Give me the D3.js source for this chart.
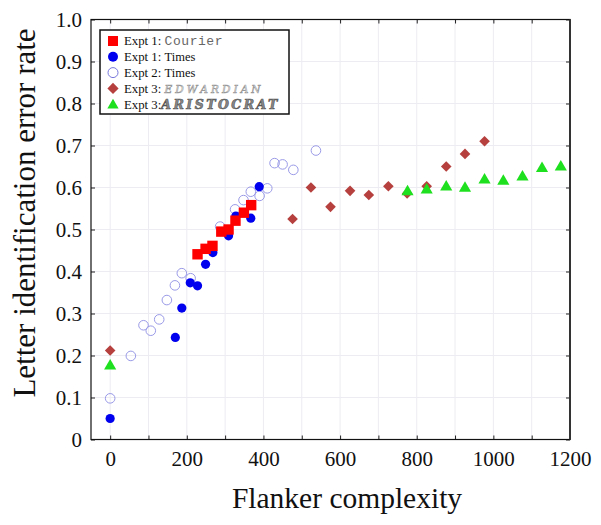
<!DOCTYPE html>
<html><head><meta charset="utf-8">
<script src="https://cdn.jsdelivr.net/npm/d3@7"></script>
<style>body{margin:0;background:#fff}</style>
</head><body><svg id="c" width="601" height="525"></svg>
<script>
const expt1Courier = [[228,0.441],[249,0.454],[267,0.461],[290,0.495],[309,0.500],[327,0.521],[349,0.540],[368,0.558]];
const expt1Times = [[0,0.050],[170,0.243],[187,0.313],[209,0.373],[228,0.366],[249,0.417],[268,0.445],[309,0.485],[328,0.532],[367,0.527],[389,0.602]];
const expt2Times = [[0,0.098],[54,0.199],[87,0.272],[106,0.259],[128,0.286],[148,0.332],[169,0.367],[187,0.396],[210,0.384],[287,0.507],[326,0.548],[348,0.570],[367,0.590],[390,0.580],[410,0.598],[429,0.658],[450,0.655],[478,0.642],[537,0.688]];
const expt3Edwardian = [[0,0.212],[476,0.525],[524,0.600],[575,0.554],[626,0.592],[675,0.582],[726,0.603],[775,0.586],[826,0.603],[877,0.650],[926,0.680],[977,0.710]];
const expt3Aristocrat = [[0,0.175],[776,0.590],[826,0.594],[877,0.601],[926,0.598],[977,0.618],[1026,0.615],[1076,0.625],[1127,0.645],[1176,0.649]];
const xTicks = [0,200,400,600,800,1000,1200];
const yTicks = [0,0.1,0.2,0.3,0.4,0.5,0.6,0.7,0.8,0.9,1.0];
const xLabel = "Flanker complexity";
const yLabel = "Letter identification error rate";

const svg = d3.select("#c");
const L=91, R=570, T=19.5, B=439.5;
const x = d3.scaleLinear().domain([-50,1200]).range([L,R]);
const y = d3.scaleLinear().domain([0,1]).range([B,T]);
const serif = "'Liberation Serif','Times New Roman',serif";

// grid
const g = svg.append("g");
g.selectAll(".vg").data(d3.range(0,1201,100)).join("line")
 .attr("x1",d=>x(d)).attr("x2",d=>x(d)).attr("y1",T).attr("y2",B)
 .attr("stroke","#ececf2").attr("stroke-width",1);
g.selectAll(".hg").data(yTicks).join("line")
 .attr("x1",L).attr("x2",R).attr("y1",d=>y(d)).attr("y2",d=>y(d))
 .attr("stroke","#ececf2").attr("stroke-width",1);

// axes
const ax = svg.append("g").attr("transform",`translate(0,${B})`)
 .call(d3.axisBottom(x).tickValues(d3.range(0,1201,100)).tickSizeInner(-4).tickSizeOuter(0).tickPadding(12)
   .tickFormat(d=>xTicks.includes(d)?d:""));
ax.select(".domain").remove();
ax.selectAll("text").attr("font-family",serif).attr("font-size",21).attr("fill","#111");
ax.selectAll("line").attr("stroke","#222");

const ay = svg.append("g").attr("transform",`translate(${L},0)`)
 .call(d3.axisLeft(y).tickValues(yTicks).tickSizeInner(-4).tickSizeOuter(0).tickPadding(9)
   .tickFormat(d=>d===0?"0":d3.format(".1f")(d)));
ay.select(".domain").remove();
ay.selectAll("text").attr("font-family",serif).attr("font-size",21).attr("fill","#111");
ay.selectAll("line").attr("stroke","#222");

const ar = svg.append("g").attr("transform",`translate(${R},0)`)
 .call(d3.axisRight(y).tickValues(yTicks).tickSizeInner(-4).tickSizeOuter(0).tickFormat(""));
ar.select(".domain").remove();
ar.selectAll("line").attr("stroke","#222");
const at = svg.append("g").attr("transform",`translate(0,${T})`)
 .call(d3.axisTop(x).tickValues(d3.range(0,1201,100)).tickSizeInner(-4).tickSizeOuter(0).tickFormat(""));
at.select(".domain").remove();
at.selectAll("line").attr("stroke","#222");

svg.append("rect").attr("x",L).attr("y",T).attr("width",R-L).attr("height",B-T)
 .attr("fill","none").attr("stroke","#111").attr("stroke-width",1.2);
svg.append("line").attr("x1",R).attr("x2",R).attr("y1",T).attr("y2",B).attr("stroke","#333").attr("stroke-width",2);

// labels
svg.append("text").attr("x",347).attr("y",508).attr("text-anchor","middle")
 .attr("font-family",serif).attr("font-size",29.5).attr("fill","#111").text(xLabel);
svg.append("text").attr("transform","translate(35,213) rotate(-90)").attr("text-anchor","middle")
 .attr("font-family",serif).attr("font-size",31).attr("fill","#111").text(yLabel);

// series
const sym = (type,size)=>d3.symbol().type(type).size(size)();
const pts = svg.append("g");
pts.selectAll(".e2").data(expt2Times).join("circle")
 .attr("cx",d=>x(d[0])).attr("cy",d=>y(d[1])).attr("r",4.8)
 .attr("fill","none").attr("stroke","#9a9ae8").attr("stroke-width",1);
pts.selectAll(".e3e").data(expt3Edwardian).join("path")
 .attr("transform",d=>`translate(${x(d[0])},${y(d[1])})`).attr("d",sym(d3.symbolDiamond2,72))
 .attr("fill","#b5403e");
pts.selectAll(".e3a").data(expt3Aristocrat).join("path")
 .attr("transform",d=>`translate(${x(d[0])},${y(d[1])})`).attr("d",sym(d3.symbolTriangle,64))
 .attr("fill","#1ee01e");
pts.selectAll(".e1t").data(expt1Times).join("circle")
 .attr("cx",d=>x(d[0])).attr("cy",d=>y(d[1])).attr("r",4.6).attr("fill","#0000ee");
pts.selectAll(".e1c").data(expt1Courier).join("rect")
 .attr("x",d=>x(d[0])-5.2).attr("y",d=>y(d[1])-5.2).attr("width",10.4).attr("height",10.4).attr("fill","#ff0000");

// legend
const lg = svg.append("g");
lg.append("rect").attr("x",100).attr("y",30).attr("width",189).attr("height",84)
 .attr("fill","#fff").attr("stroke","#111").attr("stroke-width",1.5);
const items = [
 {k:"sq", pre:"Expt 1: ", post:"Courier", style:{family:"'Liberation Mono',monospace", fill:"#666", size:13, len:58}},
 {k:"fc", pre:"Expt 1: ", post:"Times", style:{family:serif, fill:"#111", size:12.5}},
 {k:"oc", pre:"Expt 2: ", post:"Times", style:{family:serif, fill:"#111", size:12.5}},
 {k:"di", pre:"Expt 3: ", post:"EDWARDIAN", style:{family:"'DejaVu Serif',serif", fill:"#fff", stroke:"#999", size:10.5, italic:true, len:96}},
 {k:"tr", pre:"Expt 3:", post:"ARISTOCRAT", style:{family:"'DejaVu Serif',serif", fill:"#888", stroke:"#555", size:12.5, italic:true, bold:true, len:116}}
];
items.forEach((it,i)=>{
  const cy = 41 + i*15.8;
  const mx = 113;
  if(it.k==="sq") lg.append("rect").attr("x",mx-5).attr("y",cy-5).attr("width",10).attr("height",10).attr("fill","#ff0000");
  if(it.k==="fc") lg.append("circle").attr("cx",mx).attr("cy",cy).attr("r",5).attr("fill","#0000ee");
  if(it.k==="oc") lg.append("circle").attr("cx",mx).attr("cy",cy).attr("r",5).attr("fill","none").attr("stroke","#7777dd");
  if(it.k==="di") lg.append("path").attr("transform",`translate(${mx},${cy})`).attr("d",sym(d3.symbolDiamond2,80)).attr("fill","#b5403e");
  if(it.k==="tr") lg.append("path").attr("transform",`translate(${mx},${cy+1})`).attr("d",sym(d3.symbolTriangle,55)).attr("fill","#1ee01e");
  const t = lg.append("text").attr("x",124).attr("y",cy+4.3).attr("font-family",serif).attr("font-size",12.8).attr("fill","#111")
    .attr("xml:space","preserve").text(it.pre);
  const w = t.node().getComputedTextLength();
  const s = lg.append("text").attr("x",124+w).attr("y",cy+4.3).text(it.post)
    .attr("font-family",it.style.family).attr("font-size",it.style.size).attr("fill",it.style.fill);
  if(it.style.len) s.attr("textLength",it.style.len).attr("lengthAdjust","spacing");
  if(it.style.stroke) s.attr("stroke",it.style.stroke).attr("stroke-width",0.6);
  if(it.style.italic) s.attr("font-style","italic");
  if(it.style.bold) s.attr("font-weight","bold");
});
</script></body></html>
